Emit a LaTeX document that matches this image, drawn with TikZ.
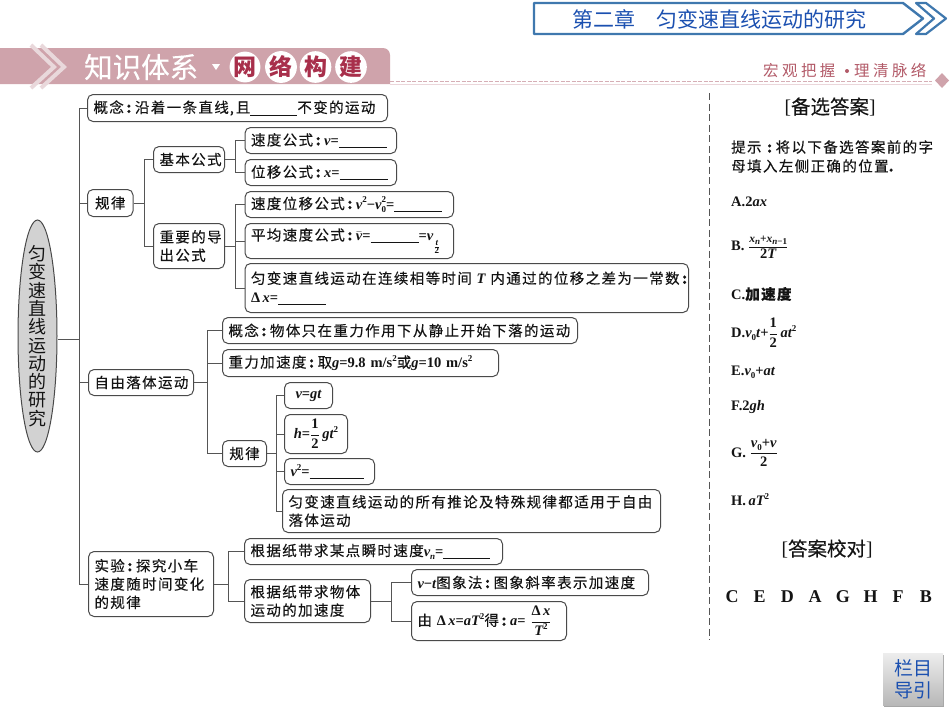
\documentclass[tikz,border=0pt]{standalone}
\usepackage{fontspec}
\usetikzlibrary{calc,shapes.geometric}
\setmainfont{Liberation Serif}
\newfontfamily\cjk[LetterSpace=9.5,FakeBold=0.25]{Noto Sans CJK SC}
\newfontfamily\cjkw[LetterSpace=22]{Noto Sans CJK SC}
\newfontfamily\cjkp{Noto Sans CJK SC}
\newfontfamily\cjkb[FakeBold=0.25]{Noto Sans CJK SC}
\newfontfamily\fmlf{Liberation Serif}
\definecolor{linegray}{HTML}{555555}
\definecolor{boxgray}{HTML}{4A4A4A}
\definecolor{ellfill}{HTML}{D2D2D2}
\definecolor{bannerpink}{HTML}{CFA3AB}
\definecolor{chevpink}{HTML}{E9D8DB}
\definecolor{dashpink}{HTML}{D6AEB5}
\definecolor{wine}{HTML}{A82F4B}
\definecolor{slogan}{HTML}{B25A68}
\definecolor{chapline}{HTML}{3F78AE}
\definecolor{chaptext}{HTML}{1B50B0}
\definecolor{txt}{HTML}{141414}
\newcommand\mi[1]{{\fmlf\bfseries\itshape #1}}
\newcommand\mr[1]{{\fmlf\bfseries #1}}
\newcommand\spp[1]{\raisebox{0.42em}{\fontsize{9}{9}\selectfont #1}}
\newcommand\sbb[1]{\raisebox{-0.22em}{\fontsize{9}{9}\selectfont #1}}
\newcommand\blank[1]{\rule[-2.5pt]{#1pt}{0.6pt}}
\newcommand\cn{\hspace{2.5pt}{\bfseries:}\hspace{3.5pt}}
\newcommand\cm{\hspace{1pt},\hspace{2pt}}
\newcommand\fr[2]{$\displaystyle\frac{\hbox{#1}}{\hbox{#2}}$}
\newcommand\bx[7][]{%
  \pgfmathsetmacro\bxw{#5-#3}%
  \pgfmathsetmacro\bxh{#6-#4}%
  \pgfmathsetmacro\bxt{#5-#3-12}%
  \node[box,minimum height=\bxh pt,text width=\bxt pt,anchor=north west,#1] (#2) at (#3,#4) {#7};}
\tikzset{
  every node/.style={inner sep=0pt,text=txt},
  box/.style={draw=boxgray,line width=1pt,rounded corners=5.5pt,fill=white,inner xsep=6pt,align=left,
    font=\fontsize{14.5}{18.3}\selectfont\cjk},
  ctr/.style={align=center},
  conn/.style={draw=linegray,line width=1pt},
  side/.style={anchor=west,font=\fontsize{14.5}{19}\selectfont\cjk,align=left},
  opt/.style={anchor=west,font=\fontsize{14.5}{19}\selectfont\fmlf\bfseries},
  head/.style={font=\fontsize{19.5}{20}\selectfont\cjkb},
  circ/.style={circle,fill=white,minimum size=29pt,text=wine,font=\fontsize{23}{23}\selectfont\cjkp\bfseries},
}
\begin{document}
\begin{tikzpicture}[x=1pt,y=-1pt]
\useasboundingbox (0,0) rectangle (950,713);
% top chapter banner
\draw[chapline,line width=2.4pt,fill=white,line join=round] (534,3) -- (903,3) -- (923,18.5) -- (903,34) -- (534,34) -- cycle;
\draw[chapline,line width=2.2pt,fill=white,line join=round] (916,3) -- (926,3) -- (946,18.5) -- (926,34) -- (916,34) -- (934,18.5) -- cycle;
\node[text=chaptext,font=\fontsize{21}{21}\selectfont\cjkp,anchor=west] (chap1) at (572,19) {第二章};
\node[text=chaptext,font=\fontsize{21}{21}\selectfont\cjkp,anchor=west] (chap2) at (656,19) {匀变速直线运动的研究};
% section banner
\fill[bannerpink] (0,84) -- (0,48) [rounded corners=7pt] -- (390,48) [sharp corners] -- (390,84) -- cycle;
\draw[chevpink,line width=4pt] (31,45) -- (54,67) -- (31,88);
\draw[chevpink,line width=4pt] (41,45) -- (64,67) -- (41,88);
\node[text=white,font=\fontsize{28.5}{28}\selectfont\cjkb,anchor=west] (sec) at (84,67) {知识体系};
\fill[white] (212,64) -- (220,64) -- (216,70) -- cycle;
\node[circ] (c1) at (245,67) {网};
\node[circ] (c2) at (281,67) {络};
\node[circ] (c3) at (315.5,67) {构};
\node[circ] (c4) at (351,67) {建};
\draw[dashpink,line width=0.8pt,dash pattern=on 4pt off 1.5pt] (390,81) -- (932,81);
\draw[dashpink!50,line width=0.8pt] (390,84) -- (932,84);
\fill[bannerpink] (942,73) -- (949,80.5) -- (942,88) -- (935,80.5) -- cycle;
\node[text=slogan,font=\fontsize{15.5}{16}\selectfont\cjkw,anchor=west] (slo1) at (763,71) {宏观把握};
\fill[slogan] (847,71) circle (2pt);
\node[text=slogan,font=\fontsize{15.5}{16}\selectfont\cjkw,anchor=west] (slo2) at (854,71) {理清脉络};
% root
\node[ellipse,draw=boxgray,line width=1pt,fill=ellfill,minimum width=39pt,minimum height=232pt] (root) at (37.5,336) {};
\node[align=center,font=\fontsize{18}{18.3}\selectfont\cjkp] (rootlab) at (root.center) {匀\\变\\速\\直\\线\\运\\动\\的\\研\\究};
% level 1
\bx{a}{87}{94}{387}{121}{概念\cn 沿着一条直线\cm 且\blank{47}不变的运动}
\bx[ctr]{b}{87}{189}{132.5}{216}{规律}
\bx[ctr]{c}{88}{369}{193}{395}{自由落体运动}
\bx{d}{88}{551}{213}{616}{实验\cn 探究小车\\速度随时间变化\\的规律}
% rule branch
\bx[ctr]{b1}{153}{146}{224}{172}{基本公式}
\bx{b2}{153}{223}{224}{268}{重要的导\\出公式}
\bx{b11}{244.5}{127}{396}{153}{速度公式\cn\mi{v}\mr{=}\blank{48}}
\bx{b12}{244.5}{159}{396}{185}{位移公式\cn\mi{x}\mr{=}\blank{48}}
\bx{b21}{244.5}{191}{453}{217}{速度位移公式\cn\mi{v}\spp{\mr{2}}\mr{−}\mi{v}\rlap{\spp{\mr{2}}}\sbb{\mr{0}}\mr{=}\blank{48}}
\bx{b22}{244.5}{223}{453}{258}{平均速度公式\cn$\bar{\hbox{\mi{v}}}$\mr{=}\blank{48}\mr{=}\mi{v}\raisebox{-9pt}{\fontsize{9}{9}\selectfont$\frac{\hbox{\mi{t}}}{\hbox{\mr{2}}}$}}
\bx{b23}{244.5}{263}{688}{312}{\mbox{匀变速直线运动在连续相等时间 \mi{T} 内通过的位移之差为一常数\cn}\\\mr{Δ}\,\mi{x}\mr{=}\blank{48}}
% free fall branch
\bx{c1b}{222}{317}{577}{343}{概念\cn 物体只在重力作用下从静止开始下落的运动}
\bx{c2b}{222}{349}{498}{376}{重力加速度\cn 取\mi{g}\mr{=9.8 m/s}\spp{\mr{2}}或\mi{g}\mr{=10 m/s}\spp{\mr{2}}}
\bx[ctr]{c3b}{222}{440}{266}{466}{规律}
\bx[ctr]{c31}{284}{382}{332}{408}{\mi{v}\mr{=}\mi{gt}}
\bx[ctr]{c32}{284}{414}{347}{453}{\mi{h}\mr{=}\fr{\mr{1}}{\mr{2}}\,\mi{gt}\spp{\mr{2}}}
\bx{c33}{284}{458}{374}{484}{\mi{v}\spp{\mr{2}}\mr{=}\blank{54}}
\bx{c34}{282}{489}{660}{532}{匀变速直线运动的所有推论及特殊规律都适用于自由\\落体运动}
% experiment branch
\bx{d1}{244}{538}{502}{564}{根据纸带求某点瞬时速度\mi{v}\sbb{\mi{n}}\mr{=}\blank{47}}
\bx{d2}{244}{579}{370}{622}{根据纸带求物体\\运动的加速度}
\bx{d21}{411}{569}{648}{595}{\mi{v}\mr{−}\mi{t}图象法\cn 图象斜率表示加速度}
\bx{d22}{411}{601}{566}{640}{由 \mr{Δ}\,\mi{x}\mr{=}\mi{aT}\spp{\mr{2}}得\cn\mi{a}\mr{=} \fr{\mr{Δ}\,\mi{x}}{\mi{T}\spp{\mr{2}}}}
% buses
\coordinate (busroot) at (79,336);
\coordinate (busb) at (144,0);
\coordinate (busb1) at (235,0);
\coordinate (busc) at (207,0);
\coordinate (busc3) at (276,0);
\coordinate (busd) at (228,0);
\coordinate (busd2) at (391,0);
% connectors
\draw[conn] ([yshift=-3pt]root.east) -- ([yshift=-3pt]root.east -| busroot);
\foreach \kid in {a,b,c,d}
  \draw[conn] ([yshift=-3pt]root.east -| busroot) |- (\kid.west);
\foreach \kid in {b1,b2}
  \draw[conn] (b.east) -- (b.east -| busb) |- (\kid.west);
\foreach \kid in {b11,b12}
  \draw[conn] (b1.east) -- (b1.east -| busb1) |- (\kid.west);
\foreach \kid in {b21,b22,b23}
  \draw[conn] (b2.east) -- (b2.east -| busb1) |- (\kid.west);
\foreach \kid in {c1b,c2b,c3b}
  \draw[conn] (c.east) -- (c.east -| busc) |- (\kid.west);
\foreach \kid in {c31,c32,c33,c34}
  \draw[conn] (c3b.east) -- (c3b.east -| busc3) |- (\kid.west);
\foreach \kid in {d1,d2}
  \draw[conn] (d.east) -- (d.east -| busd) |- (\kid.west);
\foreach \kid in {d21,d22}
  \draw[conn] (d2.east) -- (d2.east -| busd2) |- (\kid.west);
% right panel
\draw[linegray,line width=1pt,dash pattern=on 7pt off 3.5pt] (709.5,93) -- (709.5,640);
\node[head] (ans) at (830,107) {{\fmlf[}备选答案{\fmlf]}};
\node[side] (hint) at (731,156.5) {提示\hspace{3pt}\cn 将以下备选答案前的字\\母填入左侧正确的位置{\bfseries .}};
\node[opt] (oa) at (731,202) {A.2\mi{ax}};
\node[opt] (ob) at (731,247) {B. {\fontsize{11.5}{12}\selectfont\fr{\mi{x}\sbb{\mi{n}}\mr{+}\mi{x}\sbb{\mi{n}\mr{−1}}}{\fontsize{14.5}{15}\selectfont\mr{2}\mi{T}}}};
\node[opt] (oc) at (731,294) {C.{\cjk 加速度}};
\node[opt] (od) at (731,333) {D.\mi{v}\sbb{\mr{0}}\mi{t}\mr{+}\fr{\mr{1}}{\mr{2}}\,\mi{at}\spp{\mr{2}}};
\node[opt] (oe) at (731,372) {E.\mi{v}\sbb{\mr{0}}\mr{+}\mi{at}};
\node[opt] (of) at (731,407) {F.2\mi{gh}};
\node[opt] (og) at (731,453) {G. \fr{\mi{v}\sbb{\mr{0}}\mr{+}\mi{v}}{\mr{2}}};
\node[opt] (oh) at (731,500) {H.\,\mi{aT}\spp{\mr{2}}};
\node[head] (chk) at (827,549) {{\fmlf[}答案校对{\fmlf]}};
\node[anchor=center,font=\fontsize{18}{18}\selectfont\fmlf\bfseries] (keys) at (829,597)
  {\makebox[27.7pt]{C}\makebox[27.7pt]{E}\makebox[27.7pt]{D}\makebox[27.7pt]{A}\makebox[27.7pt]{G}\makebox[27.7pt]{H}\makebox[27.7pt]{F}\makebox[27.7pt]{B}};
% nav button
\fill[black!35] (884,655) rectangle (944,706.5);
\node[anchor=north west,minimum width=60pt,minimum height=52pt,top color=white!93!black,bottom color=black!28,
  align=center,text=chaptext,font=\fontsize{19}{22}\selectfont\cjkp] (nav) at (883,653) {栏目\\导引};
\end{tikzpicture}
\end{document}
